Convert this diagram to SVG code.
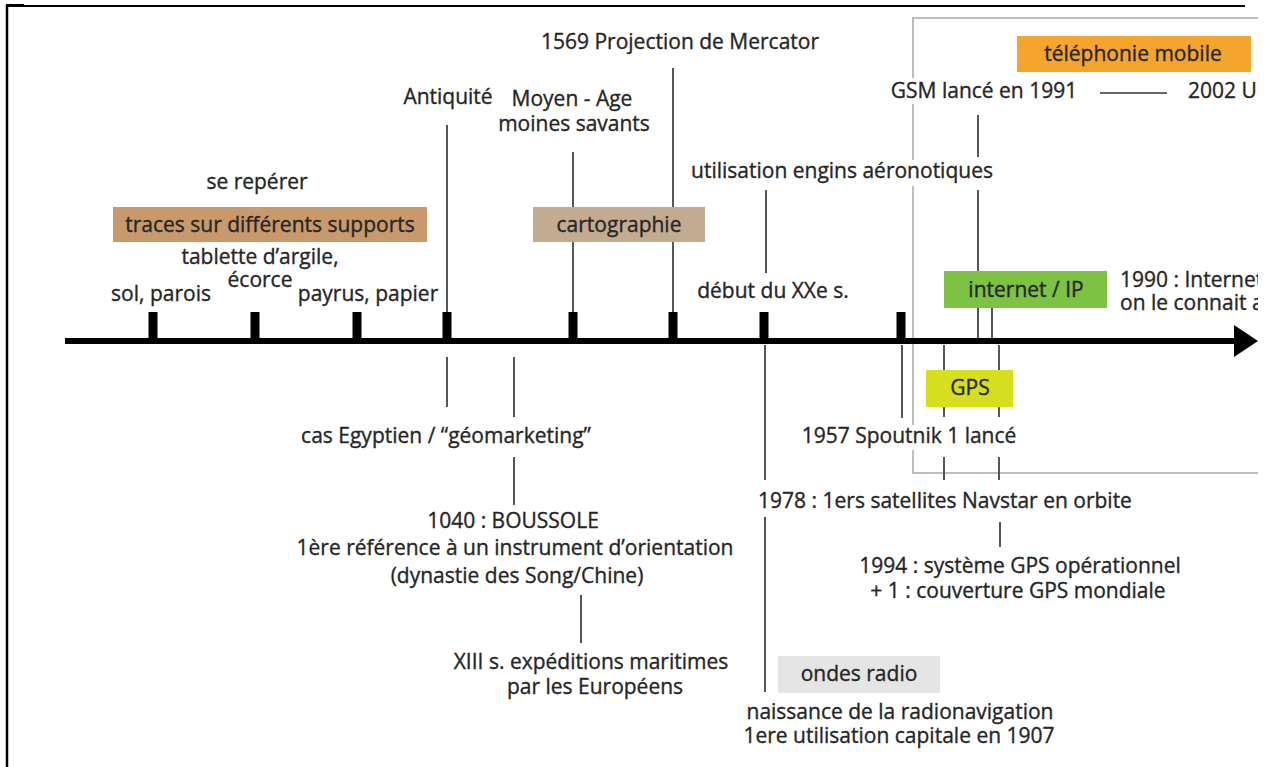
<svg xmlns="http://www.w3.org/2000/svg" width="1269" height="767" viewBox="0 0 1269 767">
  <defs>
    <style>
      text { font-family: "Open Sans", "Noto Sans", "Liberation Sans", sans-serif; font-size: 21px; fill: #262626; stroke: #262626; stroke-width: 0.35; text-anchor: middle; }
      text.l { text-anchor: start; }
      .frame { stroke: #000; fill: none; }
      .period { stroke: #bdbdbd; stroke-width: 2; fill: none; }
      .link { stroke: #555; stroke-width: 2; fill: none; }
      .tick { fill: #000; }
      .dash { stroke: #333; stroke-width: 1.5; }
    </style>
    <clipPath id="page">
      <rect x="0" y="0" width="1258" height="767"/>
    </clipPath>
  </defs>

  <rect x="0" y="0" width="1269" height="767" fill="#fff"/>

  <!-- page frame -->
  <g id="page-frame">
    <line class="frame" x1="7" y1="5" x2="7" y2="767" stroke-width="2.5"/>
    <line class="frame" x1="7" y1="6" x2="1245" y2="6" stroke-width="2"/>
    <rect x="6" y="4" width="18" height="3" fill="#000"/>
  </g>

  <!-- modern-era bracket -->
  <g id="modern-era">
    <path class="period" d="M1258 18 H913 V78 M913 104 V160 M913 186 V425 M913 450 V473 H1258"/>
  </g>

  <!-- time axis -->
  <g id="axis">
    <line x1="65" y1="341" x2="1238" y2="341" stroke="#000" stroke-width="6"/>
    <polygon points="1234,325 1258,341 1234,357" fill="#000"/>
    <rect class="tick" x="148.5" y="312" width="9" height="29"/>
    <rect class="tick" x="250.5" y="312" width="9" height="29"/>
    <rect class="tick" x="352.5" y="312" width="9" height="29"/>
    <rect class="tick" x="442.5" y="312" width="9" height="29"/>
    <rect class="tick" x="568.5" y="312" width="9" height="29"/>
    <rect class="tick" x="668.5" y="312" width="9" height="29"/>
    <rect class="tick" x="759.5" y="312" width="9" height="29"/>
    <rect class="tick" x="896.5" y="312" width="9" height="29"/>
  </g>

  <!-- connectors -->
  <g id="connectors">
    <line class="link" x1="447" y1="125" x2="447" y2="312"/>
    <line class="link" x1="573" y1="152" x2="573" y2="312"/>
    <line class="link" x1="673" y1="68" x2="673" y2="312"/>
    <line class="link" x1="766" y1="190" x2="766" y2="273"/>
    <line class="link" x1="978" y1="115" x2="978" y2="157"/>
    <line class="link" x1="978" y1="190" x2="978" y2="338"/>
    <line class="link" x1="992" y1="308" x2="992" y2="338"/>
    <line class="link" x1="447" y1="357" x2="447" y2="407"/>
    <line class="link" x1="514" y1="357" x2="514" y2="417"/>
    <line class="link" x1="514" y1="457" x2="514" y2="505"/>
    <line class="link" x1="581" y1="595" x2="581" y2="643"/>
    <line class="link" x1="765" y1="345" x2="765" y2="480"/>
    <line class="link" x1="765" y1="517" x2="765" y2="692"/>
    <line class="link" x1="902" y1="345" x2="902" y2="418"/>
    <line class="link" x1="944" y1="345" x2="944" y2="417"/>
    <line class="link" x1="944" y1="457" x2="944" y2="480"/>
    <line class="link" x1="999" y1="345" x2="999" y2="417"/>
    <line class="link" x1="999" y1="457" x2="999" y2="480"/>
    <line class="link" x1="1000" y1="522" x2="1000" y2="547"/>
    <line class="dash" x1="1100" y1="93" x2="1167" y2="93"/>
  </g>

  <!-- early supports -->
  <g id="se-reperer"><text x="257" y="189">se repérer</text></g>
  <g id="traces">
    <rect x="113" y="207" width="314" height="35" fill="#c8996a"/>
    <text x="270" y="232">traces sur différents supports</text>
  </g>
  <g id="tablette">
    <text x="260" y="264">tablette d’argile,</text>
    <text x="260" y="287">écorce</text>
  </g>
  <g id="sol"><text x="161" y="301">sol, parois</text></g>
  <g id="papyrus"><text x="368" y="301">payrus, papier</text></g>

  <!-- antiquity / middle ages -->
  <g id="antiquite"><text x="448" y="104">Antiquité</text></g>
  <g id="moyen-age">
    <text x="572" y="106">Moyen - Age</text>
    <text x="574" y="131">moines savants</text>
  </g>
  <g id="mercator"><text x="680" y="49">1569 Projection de Mercator</text></g>
  <g id="cartographie">
    <rect x="533" y="207" width="172" height="35" fill="#c2ab91"/>
    <text x="619" y="232">cartographie</text>
  </g>
  <g id="egypte"><text x="446" y="443">cas Egyptien / “géomarketing”</text></g>
  <g id="boussole">
    <text x="513" y="528">1040 : BOUSSOLE</text>
    <text x="515" y="555">1ère référence à un instrument d’orientation</text>
    <text x="517" y="583">(dynastie des Song/Chine)</text>
  </g>
  <g id="expeditions">
    <text x="591" y="669">XIII s. expéditions maritimes</text>
    <text x="595" y="694">par les Européens</text>
  </g>

  <!-- twentieth century -->
  <g id="aeronautique"><text x="842" y="178">utilisation engins aéronotiques</text></g>
  <g id="xxe"><text x="773" y="298">début du XXe s.</text></g>
  <g id="ondes-radio">
    <rect x="778" y="656" width="162" height="37" fill="#e5e5e5"/>
    <text x="859" y="681">ondes radio</text>
  </g>
  <g id="radionavigation">
    <text x="900" y="719">naissance de la radionavigation</text>
    <text x="899" y="743">1ere utilisation capitale en 1907</text>
  </g>

  <!-- satellite era -->
  <g id="spoutnik"><text x="909" y="443">1957 Spoutnik 1 lancé</text></g>
  <g id="gps">
    <rect x="926" y="370" width="87" height="37" fill="#d5df1e"/>
    <text x="970" y="395">GPS</text>
  </g>
  <g id="navstar"><text x="945" y="508">1978 : 1ers satellites Navstar en orbite</text></g>
  <g id="gps-1994">
    <text x="1020" y="573">1994 : système GPS opérationnel</text>
    <text x="1018" y="598">+ 1 : couverture GPS mondiale</text>
  </g>
  <g id="internet">
    <rect x="944" y="271" width="163" height="37" fill="#7cc243"/>
    <text x="1026" y="297">internet / IP</text>
  </g>
  <g id="internet-1990" clip-path="url(#page)">
    <text class="l" x="1120" y="287">1990 : Internet</text>
    <text class="l" x="1120" y="310">on le connait a</text>
  </g>
  <g id="telephonie">
    <rect x="1017" y="36" width="234" height="36" fill="#f5a42e"/>
    <text x="1133" y="61">téléphonie mobile</text>
  </g>
  <g id="gsm"><text x="984" y="98">GSM lancé en 1991</text></g>
  <g id="umts" clip-path="url(#page)"><text class="l" x="1188" y="98">2002 U</text></g>
</svg>
